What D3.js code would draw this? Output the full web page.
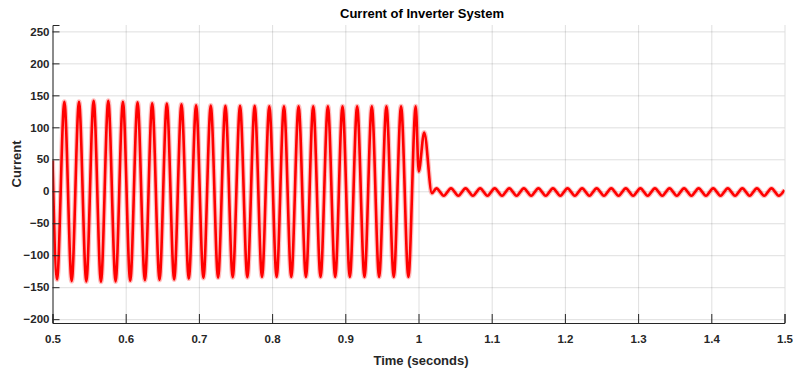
<!DOCTYPE html>
<html>
<head>
<meta charset="utf-8">
<script src="https://cdn.jsdelivr.net/npm/d3@7"></script>
<style>
  body { margin: 0; background: #fff; }
  text { font-family: "Liberation Sans", Arial, sans-serif; font-weight: bold; fill: #262626; }
</style>
</head>
<body>
<div id="chart"></div>
<script>
// tick values and labels
var xTicks = [0.5, 0.6, 0.7, 0.8, 0.9, 1.0, 1.1, 1.2, 1.3, 1.4, 1.5];
var xTickLabels = ["0.5", "0.6", "0.7", "0.8", "0.9", "1", "1.1", "1.2", "1.3", "1.4", "1.5"];
var yTicks = [-200, -150, -100, -50, 0, 50, 100, 150, 200, 250];

// steady state 50 Hz current, start point then trough / peak of each cycle
var steadyTime = [0.5,
  0.5062, 0.5162, 0.5262, 0.5362, 0.5462, 0.5562, 0.5662, 0.5762, 0.5862, 0.5962,
  0.6062, 0.6162, 0.6262, 0.6362, 0.6462, 0.6562, 0.6662, 0.6762, 0.6862, 0.6962,
  0.7062, 0.7162, 0.7262, 0.7362, 0.7462, 0.7562, 0.7662, 0.7762, 0.7862, 0.7962,
  0.8062, 0.8162, 0.8262, 0.8362, 0.8462, 0.8562, 0.8662, 0.8762, 0.8862, 0.8962,
  0.9062, 0.9162, 0.9262, 0.9362, 0.9462, 0.9562, 0.9662, 0.9762, 0.9862, 0.9962];
var steadyCurrent = [48,
  -138, 140, -140.5, 140, -141, 141.5, -141.5, 141.5, -141, 140,
  -140, 139, -139, 137.5, -138.5, 137, -138, 136, -136.5, 134.5,
  -135.5, 134, -135, 133.5, -134.5, 133.5, -134.5, 133.5, -134, 133,
  -134, 133, -134, 133, -134, 133, -134, 133, -134, 133,
  -134, 133, -134, 133, -134, 133, -134, 133, -134, 133];

// transient when the load is switched near t = 1 s
var transientTime = [1.0003, 1.0078, 1.0183];
var transientCurrent = [31, 92, -3];

// small ripple afterwards, peak / trough pairs
var rippleTime = [
  1.0245, 1.0345, 1.0444, 1.0544, 1.0643, 1.0743, 1.0842, 1.0942, 1.1041, 1.1141,
  1.1240, 1.1340, 1.1439, 1.1539, 1.1638, 1.1738, 1.1837, 1.1937, 1.2036, 1.2136,
  1.2235, 1.2335, 1.2434, 1.2534, 1.2633, 1.2733, 1.2832, 1.2932, 1.3031, 1.3131,
  1.3230, 1.3330, 1.3429, 1.3529, 1.3628, 1.3728, 1.3827, 1.3927, 1.4026, 1.4126,
  1.4225, 1.4325, 1.4424, 1.4524, 1.4623, 1.4723, 1.4822, 1.4922, 1.5];
var rippleCurrent = [
  4.5, -7, 4.5, -7, 4.5, -7, 4.5, -7, 4.5, -7,
  4.5, -7, 4.5, -7, 4.5, -7, 4.5, -7, 4.5, -7,
  4.5, -7, 4.5, -7, 4.5, -7, 4.5, -7, 4.5, -7,
  4.5, -7, 4.5, -7, 4.5, -7, 4.5, -7, 4.5, -7,
  4.5, -7, 4.5, -7, 4.5, -7, 4.5, -7, 2];

var width = 793, height = 373;
var margin = {left: 52.5, right: 8.5, top: 25, bottom: 50};

var svg = d3.select("#chart").append("svg")
  .attr("width", width)
  .attr("height", height);

var x = d3.scaleLinear()
  .domain([0.5, 1.5])
  .range([margin.left, width - margin.right]);

var y = d3.scaleLinear()
  .domain([-206, 260])
  .range([height - margin.bottom, margin.top]);

// build point list
var points = [];
function addSeries(ts, vs) {
  for (var i = 0; i < ts.length; i++) points.push({t: ts[i], v: vs[i]});
}
addSeries(steadyTime, steadyCurrent);
addSeries(transientTime, transientCurrent);
addSeries(rippleTime, rippleCurrent);

// grid
svg.append("g")
  .attr("transform", "translate(0," + (height - margin.bottom) + ")")
  .call(d3.axisBottom(x).tickValues(xTicks).tickSize(-(height - margin.bottom - margin.top)).tickFormat(""))
  .call(function(g) { g.select(".domain").remove(); })
  .selectAll("line")
    .attr("stroke", "#262626")
    .attr("stroke-opacity", 0.15);

svg.append("g")
  .attr("transform", "translate(" + margin.left + ",0)")
  .call(d3.axisLeft(y).tickValues(yTicks).tickSize(-(width - margin.left - margin.right)).tickFormat(""))
  .call(function(g) { g.select(".domain").remove(); })
  .selectAll("line")
    .attr("stroke", "#262626")
    .attr("stroke-opacity", 0.15);

// the current trace
svg.append("clipPath")
  .attr("id", "clip")
  .append("rect")
  .attr("x", margin.left)
  .attr("y", margin.top)
  .attr("width", width - margin.left - margin.right)
  .attr("height", height - margin.top - margin.bottom);

var line = d3.line()
  .curve(d3.curveMonotoneX)
  .x(function(d) { return x(d.t); })
  .y(function(d) { return y(d.v); });

var trace = svg.append("g").attr("clip-path", "url(#clip)");
trace.append("path")
  .datum(points)
  .attr("fill", "none")
  .attr("stroke", "#ff0000")
  .attr("stroke-opacity", 0.25)
  .attr("stroke-width", 5)
  .attr("d", line);
trace.append("path")
  .datum(points)
  .attr("fill", "none")
  .attr("stroke", "#ff0000")
  .attr("stroke-width", 2.6)
  .attr("stroke-linejoin", "round")
  .attr("d", line);

// axes
var xAxis = svg.append("g")
  .attr("transform", "translate(0," + (height - margin.bottom) + ")")
  .call(d3.axisBottom(x).tickValues(xTicks).tickSize(-9).tickPadding(12)
    .tickFormat(function(d, i) { return xTickLabels[i]; }));
xAxis.select(".domain").attr("stroke", "#262626");
xAxis.selectAll("line").attr("stroke", "#262626");
xAxis.selectAll("text")
  .style("font-size", "11.5px")
  .style("font-family", "'Liberation Sans', Arial, sans-serif")
  .attr("fill", "#262626");

var yAxis = svg.append("g")
  .attr("transform", "translate(" + margin.left + ",0)")
  .call(d3.axisLeft(y).tickValues(yTicks).tickSize(-7).tickPadding(3));
yAxis.select(".domain").attr("stroke", "#262626");
yAxis.selectAll("line").attr("stroke", "#262626");
yAxis.selectAll("text")
  .style("font-size", "11.5px")
  .style("font-family", "'Liberation Sans', Arial, sans-serif")
  .attr("fill", "#262626");

// labels
svg.append("text")
  .attr("x", 422)
  .attr("y", 18)
  .attr("text-anchor", "middle")
  .style("font-size", "13px")
  .style("fill", "#000")
  .text("Current of Inverter System");

svg.append("text")
  .attr("x", 421)
  .attr("y", 365)
  .attr("text-anchor", "middle")
  .style("font-size", "13px")
  .text("Time (seconds)");

svg.append("text")
  .attr("transform", "translate(21,164) rotate(-90)")
  .attr("text-anchor", "middle")
  .style("font-size", "13px")
  .text("Current");
</script>
</body>
</html>
